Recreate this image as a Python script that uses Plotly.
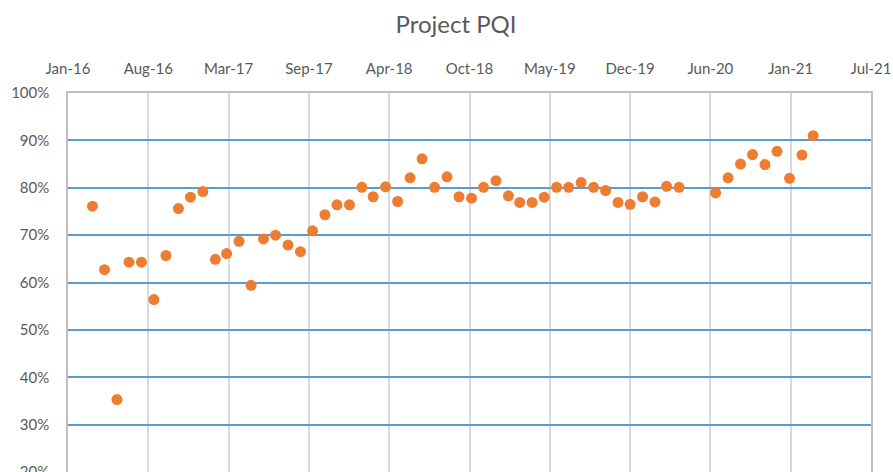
import plotly.graph_objects as go

dates = [
    "2016-04-01", "2016-05-01", "2016-06-01", "2016-07-01", "2016-08-01", "2016-09-01",
    "2016-10-01", "2016-11-01", "2016-12-01", "2017-01-01", "2017-02-01", "2017-03-01",
    "2017-04-01", "2017-05-01", "2017-06-01", "2017-07-01", "2017-08-01", "2017-09-01",
    "2017-10-01", "2017-11-01", "2017-12-01", "2018-01-01", "2018-02-01", "2018-03-01",
    "2018-04-01", "2018-05-01", "2018-06-01", "2018-07-01", "2018-08-01", "2018-09-01",
    "2018-10-01", "2018-11-01", "2018-12-01", "2019-01-01", "2019-02-01", "2019-03-01",
    "2019-04-01", "2019-05-01", "2019-06-01", "2019-07-01", "2019-08-01", "2019-09-01",
    "2019-10-01", "2019-11-01", "2019-12-01", "2020-01-01", "2020-02-01", "2020-03-01",
    "2020-04-01", "2020-07-01", "2020-08-01", "2020-09-01", "2020-10-01", "2020-11-01",
    "2020-12-01", "2021-01-01", "2021-02-01", "2021-03-01",
]
pqi = [
    76.1, 62.7, 35.3, 64.3, 64.3, 56.4,
    65.7, 75.6, 78.0, 79.2, 64.9, 66.1,
    68.7, 59.4, 69.2, 70.0, 67.9, 66.5,
    70.9, 74.3, 76.4, 76.4, 80.1, 78.1,
    80.2, 77.1, 82.1, 86.1, 80.1, 82.3,
    78.1, 77.8, 80.1, 81.5, 78.3, 76.9,
    76.9, 78.0, 80.1, 80.1, 81.1, 80.1,
    79.4, 76.9, 76.5, 78.1, 77.0, 80.3,
    80.1, 78.9, 82.1, 85.0, 87.0, 84.9,
    87.7, 82.0, 86.9, 91.0,
]
pqi_frac = [v / 100 for v in pqi]

FONT = "Lato"
GREY = "#595959"

W, H = 893, 472

fig = go.Figure()
fig.add_trace(go.Scatter(
    x=dates, y=pqi_frac, mode="markers",
    marker=dict(color="#ED7D31", size=11, line=dict(width=0)),
    showlegend=False,
))

fig.update_layout(
    width=W, height=H,
    margin=dict(l=68, r=22, t=93, b=0, autoexpand=False),
    paper_bgcolor="white", plot_bgcolor="white",
    title=dict(text="Project PQI", x=456 / W, xanchor="center",
               y=1 - 25 / H, yanchor="middle",
               font=dict(family=FONT, size=24, color=GREY)),
    xaxis=dict(
        type="date", side="top",
        range=["2016-01-31", "2021-07-23"],
        tick0="2016-01-31", dtick=200 * 86400000,
        tickformat="%b-%y",
        showgrid=True, gridcolor="#D9D9D9", gridwidth=1.5,
        showline=True, linecolor="#BFBFBF", linewidth=1.5, mirror=True,
        ticks="", ticklabelstandoff=11, ticklabeloverflow="allow",
        tickfont=dict(family=FONT, size=15, color=GREY),
        zeroline=False, automargin=False,
    ),
    yaxis=dict(
        range=[0.2, 1.0], dtick=0.1, tickformat=".0%",
        showgrid=True, gridcolor="#5B9BD5", gridwidth=2,
        showline=True, linecolor="#BFBFBF", linewidth=1.5, mirror=True,
        ticks="", ticklabelstandoff=14, ticklabeloverflow="allow",
        tickfont=dict(family=FONT, size=15, color=GREY),
        zeroline=False, automargin=False,
    ),
)

fig.write_html(
    "out.html",
    config={"displayModeBar": False},
    post_script="document.body.style.margin='0';document.body.style.overflow='hidden';",
)
